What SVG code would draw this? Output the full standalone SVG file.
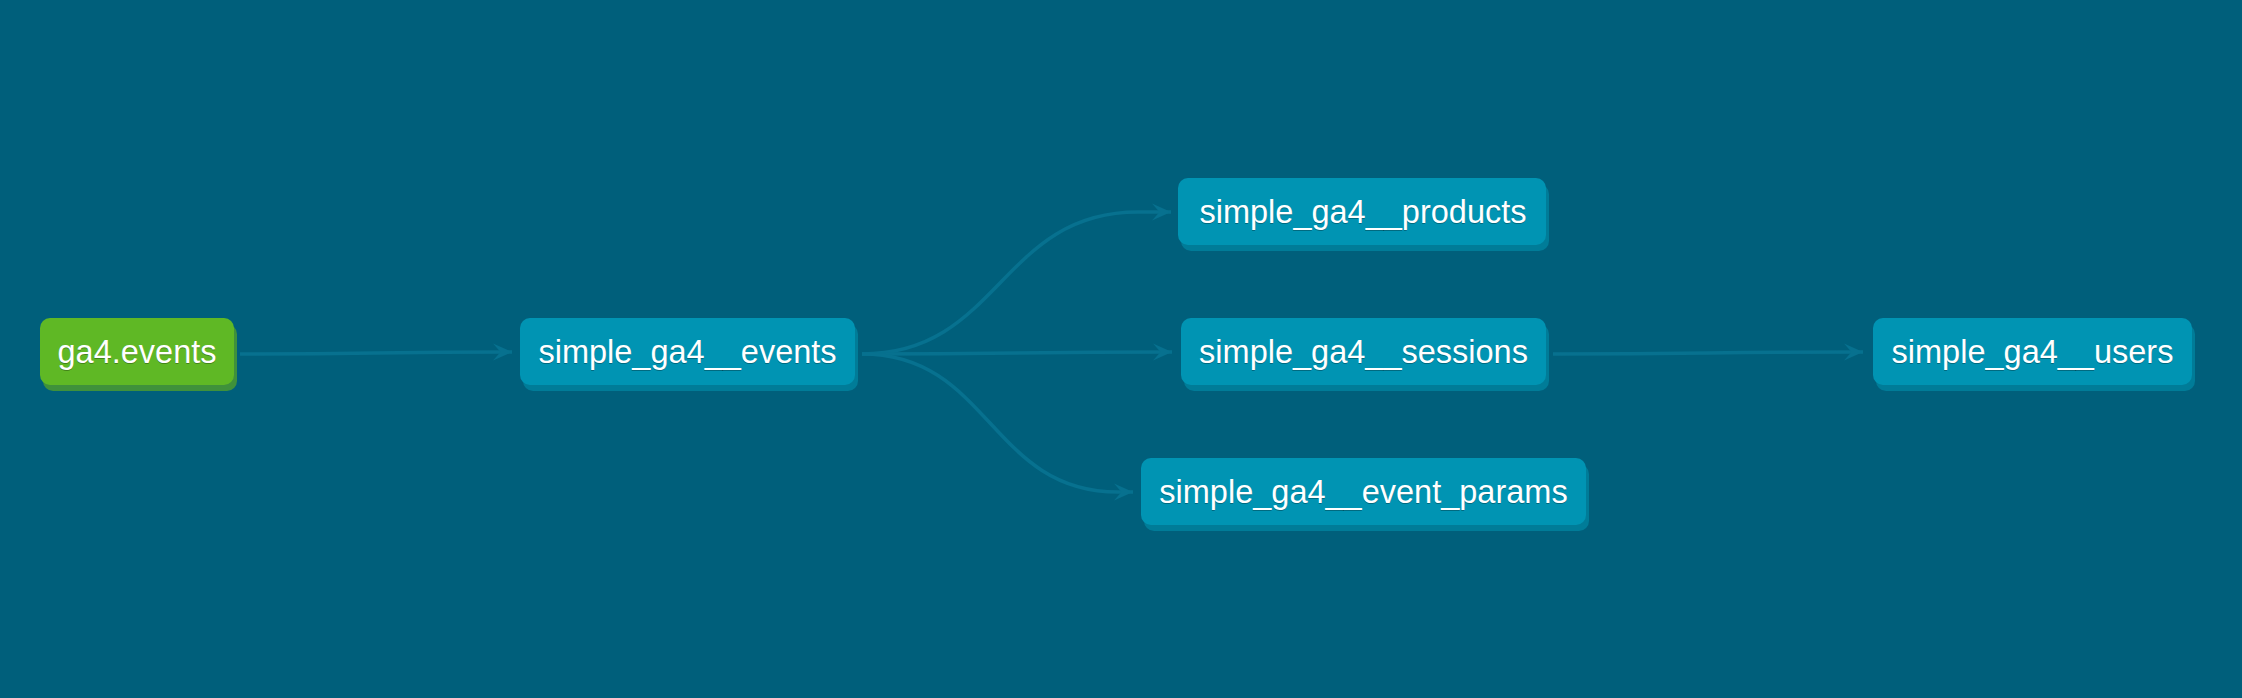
<svg xmlns="http://www.w3.org/2000/svg" width="2242" height="698" viewBox="0 0 2242 698">
  <style>
    .bg { fill: #005f7b; }
    .edge { fill: none; stroke: #07718f; stroke-width: 3.5; }
    .shadow-blue { fill: #007c98; }
    .box-blue { fill: #0094b3; }
    .shadow-green { fill: #3f913b; }
    .box-green { fill: #5fb825; }
    .label { font-family: "Liberation Sans", Arial, sans-serif; font-size: 32.5px; fill: #ffffff; text-anchor: middle; }
    .label-sh { font-family: "Liberation Sans", Arial, sans-serif; font-size: 32.5px; fill: #000000; fill-opacity: 0.3; text-anchor: middle; }
  </style>
  <defs>
    <marker id="arrow" viewBox="0 0 20 18" refX="19" refY="9" markerWidth="20" markerHeight="18" markerUnits="userSpaceOnUse" orient="auto">
      <path d="M0,0.5 L19,9 L0,17.5 L7.5,9 Z" fill="#07718f"/>
    </marker>
  </defs>
  <rect class="bg" x="0" y="0" width="2242" height="698"/>

  <g id="connectors">
    <path class="edge" d="M240,354 C376,354 376,352 512,352" marker-end="url(#arrow)"/>
    <path class="edge" d="M862,354 C1000,354 1000,212 1138,212 L1171,212" marker-end="url(#arrow)"/>
    <path class="edge" d="M862,354 C1017,354 1017,352 1172,352" marker-end="url(#arrow)"/>
    <path class="edge" d="M862,354 C990,354 990,492 1118,492 L1133,492" marker-end="url(#arrow)"/>
    <path class="edge" d="M1553,354 C1708,354 1708,352 1863,352" marker-end="url(#arrow)"/>
  </g>

  <g id="node-ga4-events">
    <rect class="shadow-green" x="43" y="324" width="194" height="67" rx="10"/>
    <rect class="box-green" x="40" y="318" width="194" height="67" rx="10"/>
    <text class="label-sh" x="137" y="364">ga4.events</text>
    <text class="label" x="137" y="363">ga4.events</text>
  </g>

  <g id="node-simple-ga4-events">
    <rect class="shadow-blue" x="523" y="324" width="335" height="67" rx="10"/>
    <rect class="box-blue" x="520" y="318" width="335" height="67" rx="10"/>
    <text class="label-sh" x="687.5" y="364">simple_ga4__events</text>
    <text class="label" x="687.5" y="363">simple_ga4__events</text>
  </g>

  <g id="node-simple-ga4-products">
    <rect class="shadow-blue" x="1181" y="184" width="368" height="67" rx="10"/>
    <rect class="box-blue" x="1178" y="178" width="368" height="67" rx="10"/>
    <text class="label-sh" x="1363" y="224">simple_ga4__products</text>
    <text class="label" x="1363" y="223">simple_ga4__products</text>
  </g>

  <g id="node-simple-ga4-sessions">
    <rect class="shadow-blue" x="1184" y="324" width="365" height="67" rx="10"/>
    <rect class="box-blue" x="1181" y="318" width="365" height="67" rx="10"/>
    <text class="label-sh" x="1363.5" y="364">simple_ga4__sessions</text>
    <text class="label" x="1363.5" y="363">simple_ga4__sessions</text>
  </g>

  <g id="node-simple-ga4-event-params">
    <rect class="shadow-blue" x="1144" y="464" width="445" height="67" rx="10"/>
    <rect class="box-blue" x="1141" y="458" width="445" height="67" rx="10"/>
    <text class="label-sh" x="1363.5" y="504">simple_ga4__event_params</text>
    <text class="label" x="1363.5" y="503">simple_ga4__event_params</text>
  </g>

  <g id="node-simple-ga4-users">
    <rect class="shadow-blue" x="1876" y="324" width="319" height="67" rx="10"/>
    <rect class="box-blue" x="1873" y="318" width="319" height="67" rx="10"/>
    <text class="label-sh" x="2032.5" y="364">simple_ga4__users</text>
    <text class="label" x="2032.5" y="363">simple_ga4__users</text>
  </g>
</svg>
